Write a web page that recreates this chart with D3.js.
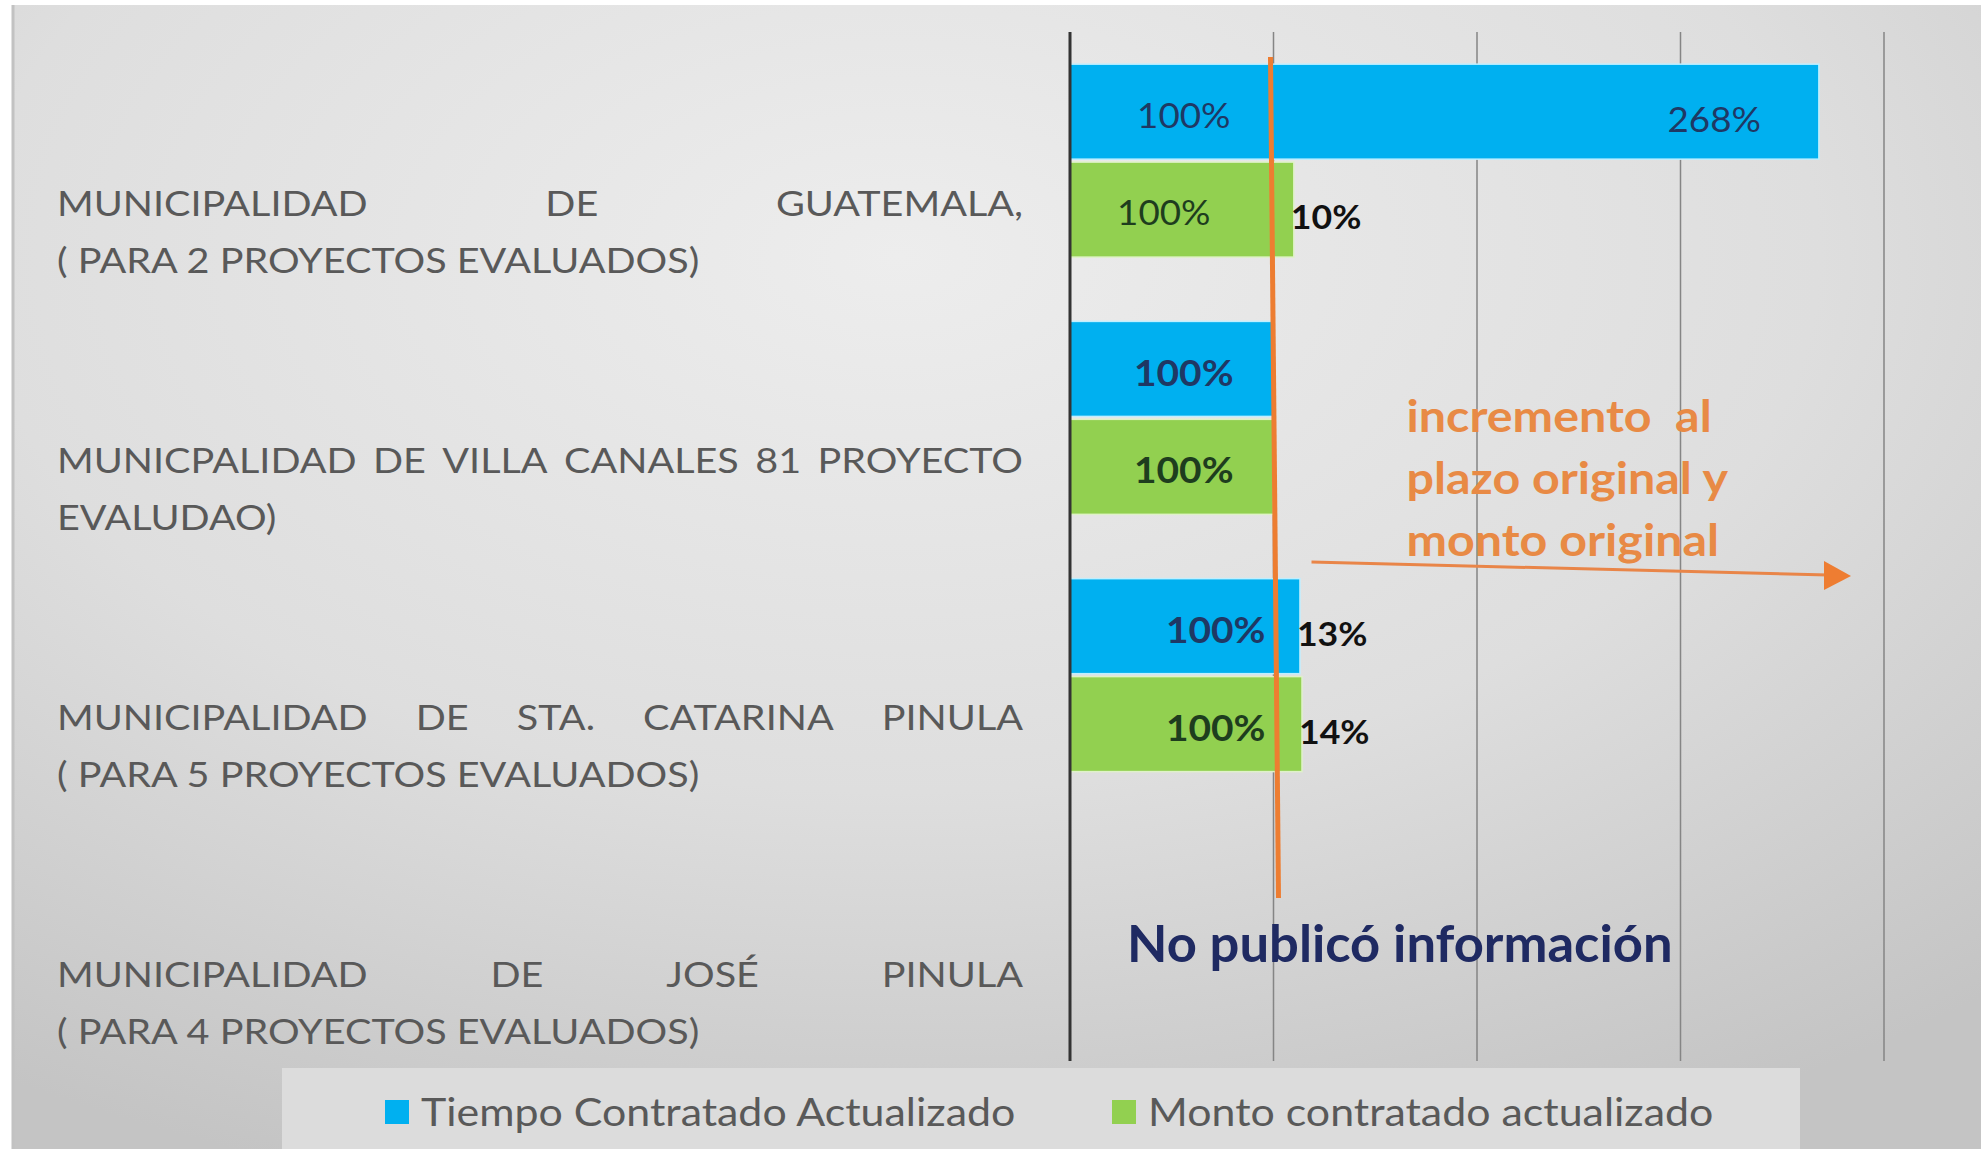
<!DOCTYPE html>
<html>
<head>
<meta charset="utf-8">
<script src="https://cdn.jsdelivr.net/npm/d3@7"></script>
<style>
  body { margin: 0; background: #fff; }
  svg { display: block; }
  text { white-space: pre; }
</style>
</head>
<body>
<div id="chart"></div>
<script>
// ---------------------------------------------- //
// Data
// ---------------------------------------------- //
const categoryLines = [
    ["MUNICIPALIDAD DE GUATEMALA,", "( PARA 2 PROYECTOS EVALUADOS)"],
    ["MUNICPALIDAD DE VILLA CANALES  81 PROYECTO", "EVALUDAO)"],
    ["MUNICIPALIDAD DE STA. CATARINA PINULA", "( PARA 5 PROYECTOS EVALUADOS)"],
    ["MUNICIPALIDAD DE JOSÉ PINULA", "( PARA 4 PROYECTOS EVALUADOS)"]
];
const categories = categoryLines.map(d => d.join(" "));
const series = ["Tiempo Contratado Actualizado", "Monto contratado actualizado"];

// base = plazo / monto original (100%), incremento = what was added on top
const tiempoBase = [100, 100, 100, null];
const tiempoIncremento = [268, 0, 13, null];
const montoBase = [100, 100, 100, null];
const montoIncremento = [10, 0, 14, null];

const xTicks = [100, 200, 300, 400];

const annotationLines = ["incremento  al", "plazo original y", "monto original"];
const noInfoText = "No publicó información";

// ---------------------------------------------- //
// Chart
// ---------------------------------------------- //
const W = 1981, H = 1149;
const colors = ["#00b0f0", "#92d050"];

// the source font is wider than Lato, widen glyphs a bit
function stretch(sel, k) {
    sel.each(function() {
        const n = this.getComputedTextLength();
        d3.select(this)
            .attr("textLength", n * k)
            .attr("lengthAdjust", "spacingAndGlyphs");
    });
    return sel;
}

const svg = d3.select("#chart").append("svg")
    .attr("width", W)
    .attr("height", H);

const defs = svg.append("defs");
const grad = defs.append("radialGradient")
    .attr("id", "bg")
    .attr("cx", "45%").attr("cy", "22%").attr("r", "85%");
grad.append("stop").attr("offset", "0%").attr("stop-color", "#ededed");
grad.append("stop").attr("offset", "55%").attr("stop-color", "#dedede");
grad.append("stop").attr("offset", "100%").attr("stop-color", "#c4c4c4");

svg.append("rect")
    .attr("x", 12).attr("y", 5)
    .attr("width", W - 12).attr("height", H - 5)
    .attr("fill", "url(#bg)");
svg.append("line")
    .attr("x1", 13).attr("x2", 13).attr("y1", 5).attr("y2", H)
    .attr("stroke", "#c2c2c2").attr("stroke-width", 3);

// scales
const x = d3.scaleLinear().domain([0, 400]).range([1070, 1884]);
const y0 = d3.scaleBand()
    .domain(categories)
    .range([32, 1061])
    .paddingInner(0.25)
    .paddingOuter(0.125);
const y1 = d3.scaleBand()
    .domain(series)
    .range([0, y0.bandwidth()])
    .paddingInner(0.03);

// gridlines
svg.append("g")
    .selectAll("line")
    .data(xTicks)
    .join("line")
    .attr("x1", d => x(d)).attr("x2", d => x(d))
    .attr("y1", 32).attr("y2", 1061)
    .attr("stroke", "#858585")
    .attr("stroke-width", 1.5);

// rows
const rows = categories.map((c, i) => [
    {cat: c, row: i, s: 0, base: tiempoBase[i], inc: tiempoIncremento[i]},
    {cat: c, row: i, s: 1, base: montoBase[i], inc: montoIncremento[i]}
]).flat().filter(d => d.base != null);

svg.append("g")
    .selectAll("rect")
    .data(rows)
    .join("rect")
    .attr("x", x(0))
    .attr("y", d => y0(d.cat) + y1(series[d.s]))
    .attr("width", d => x(d.base + d.inc) - x(0))
    .attr("height", y1.bandwidth())
    .attr("fill", d => colors[d.s])
    .attr("stroke", d => d.s === 0 ? "#bfefff" : "#dff2c8")
    .attr("stroke-width", 1.5);

// axis line
svg.append("line")
    .attr("x1", x(0)).attr("x2", x(0))
    .attr("y1", 32).attr("y2", 1061)
    .attr("stroke", "#333")
    .attr("stroke-width", 3);

// base labels (100%)
const labelColor = ["#1f3864", "#1e3d1e"];
svg.append("g")
    .selectAll("text")
    .data(rows)
    .join("text")
    .attr("x", d => d.row === 2 ? x(d.base) - 8 : (x(0) + x(d.base)) / 2 + (d.row === 0 && d.s === 1 ? -8 : 12))
    .attr("y", d => y0(d.cat) + y1(series[d.s]) + y1.bandwidth() / 2 + 4)
    .attr("dy", "0.35em")
    .attr("text-anchor", d => d.row === 2 ? "end" : "middle")
    .attr("font-family", "Lato, sans-serif")
    .attr("font-size", d => d.row === 0 ? 34 : 36)
    .attr("font-weight", d => d.row === 0 ? "normal" : "bold")
    .attr("fill", d => labelColor[d.s])
    .text(d => d.base + "%")
    .call(stretch, 1.08);

// increment labels
svg.append("g")
    .selectAll("text")
    .data(rows.filter(d => d.inc > 0))
    .join("text")
    .each(function(d) {
        const inside = x(d.base + d.inc) - x(d.base) > 100;
        d3.select(this)
            .attr("x", inside ? x(d.base + d.inc) - 58 : x(d.base + d.inc) - 3)
            .attr("text-anchor", inside ? "end" : "start")
            .attr("font-size", inside ? 34 : 33)
            .attr("font-weight", inside ? "normal" : "bold")
            .attr("fill", inside ? "#1f3864" : "#111");
    })
    .attr("y", d => y0(d.cat) + y1(series[d.s]) + y1.bandwidth() / 2 + 8)
    .attr("dy", "0.35em")
    .attr("font-family", "Lato, sans-serif")
    .text(d => d.inc + "%")
    .call(stretch, 1.08);

// category labels, first line justified like the original text box
const labelLeft = 57, labelRight = 1023, labelK = 1.13;
const labels = svg.append("g")
    .attr("font-family", "Lato, sans-serif")
    .attr("font-size", 35)
    .attr("fill", "#595959");

categoryLines.forEach((lines, i) => {
    const cy = y0(categories[i]) + y0.bandwidth() / 2;
    const words = lines[0].split(/\s+/);
    const tmp = words.map(w => labels.append("text").text(w));
    const widths = tmp.map(t => t.node().getComputedTextLength() * labelK);
    tmp.forEach((t, k) => t.attr("textLength", widths[k]).attr("lengthAdjust", "spacingAndGlyphs"));
    const gap = (labelRight - labelLeft - d3.sum(widths)) / (words.length - 1);
    let cx = labelLeft;
    tmp.forEach((t, k) => {
        t.attr("x", cx).attr("y", cy + 55);
        cx += widths[k] + gap;
    });
    labels.append("text")
        .attr("x", labelLeft)
        .attr("y", cy + 112)
        .text(lines[1])
        .call(stretch, labelK);
});

// orange reference line at 100%
svg.append("line")
    .attr("x1", x(100) - 3).attr("y1", 57)
    .attr("x2", x(100) + 5).attr("y2", 898)
    .attr("stroke", "#ed7d31")
    .attr("stroke-width", 5);

// annotation arrow
svg.append("line")
    .attr("x1", x(100) + 38).attr("y1", 562)
    .attr("x2", x(400) - 56).attr("y2", 575)
    .attr("stroke", "#e98548")
    .attr("stroke-width", 3);
svg.append("path")
    .attr("d", d3.line()([[x(400) - 60, 561], [x(400) - 33, 576], [x(400) - 60, 590]]))
    .attr("fill", "#ee7d32");

svg.append("g")
    .selectAll("text")
    .data(annotationLines)
    .join("text")
    .attr("x", x(100) + 133)
    .attr("y", (d, i) => 432 + i * 62)
    .attr("font-family", "Lato, sans-serif")
    .attr("font-size", 44)
    .attr("font-weight", "bold")
    .attr("fill", "#e88a45")
    .text(d => d)
    .call(stretch, 1.1);

svg.append("text")
    .attr("x", x(0) + 57)
    .attr("y", 962)
    .attr("font-family", "Lato, sans-serif")
    .attr("font-size", 51)
    .attr("font-weight", "bold")
    .attr("fill", "#1f2a62")
    .text(noInfoText)
    .call(stretch, 1.03);

// legend
const legend = svg.append("g");
legend.append("rect")
    .attr("x", 282).attr("y", 1068)
    .attr("width", 1518).attr("height", H - 1068)
    .attr("fill", "#dcdcdc");

const legendX = [385, 1112];
const item = legend.selectAll("g")
    .data(series)
    .join("g")
    .attr("transform", (d, i) => `translate(${legendX[i]},1112)`);
item.append("rect")
    .attr("x", 0).attr("y", -12)
    .attr("width", 24).attr("height", 24)
    .attr("fill", (d, i) => colors[i]);
item.append("text")
    .attr("x", 36)
    .attr("dy", "0.36em")
    .attr("font-family", "Lato, sans-serif")
    .attr("font-size", 39)
    .attr("fill", "#595959")
    .text(d => d)
    .call(stretch, 1.1);
</script>
</body>
</html>
